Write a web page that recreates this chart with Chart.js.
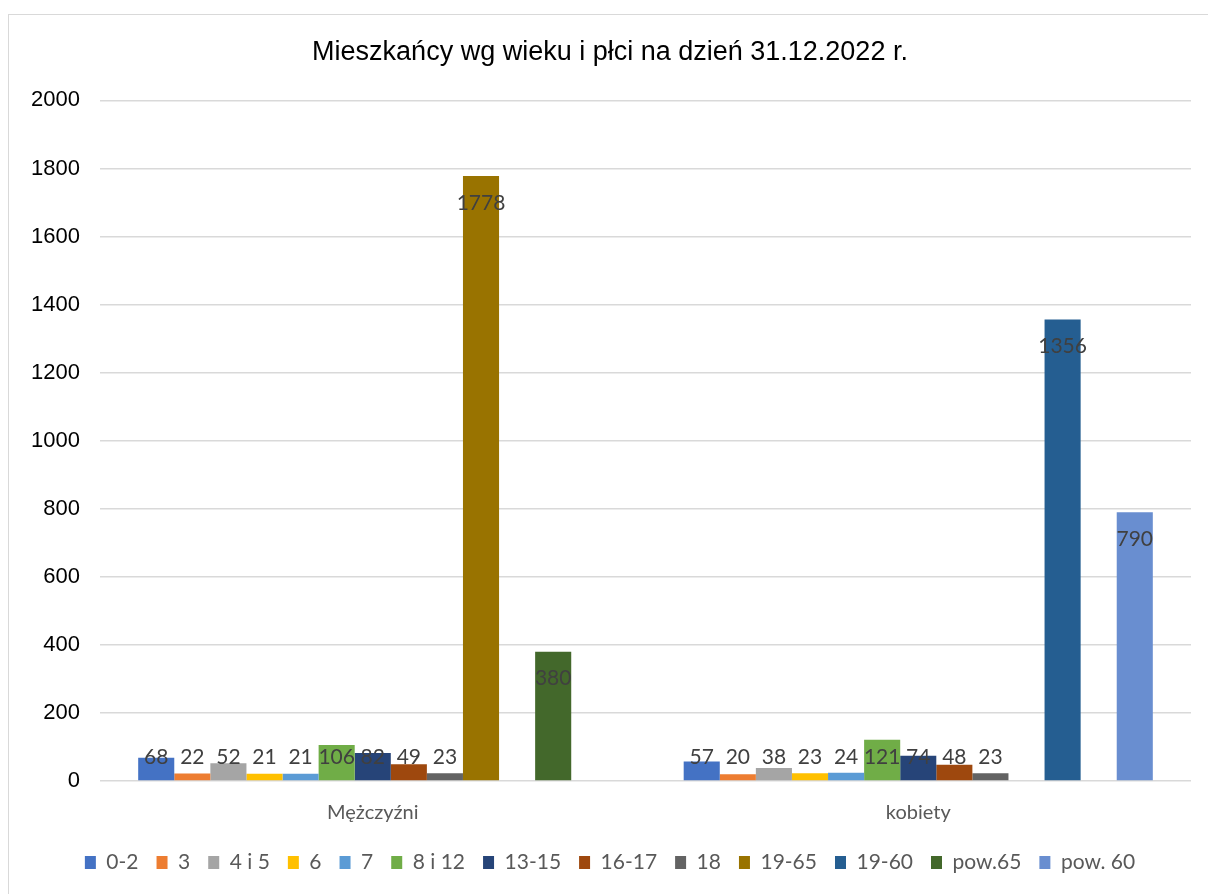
<!DOCTYPE html>
<html>
<head>
<meta charset="utf-8">
<script src="https://cdn.jsdelivr.net/npm/chart.js@4.4.1/dist/chart.umd.min.js"></script>
<style>
  html, body { margin:0; padding:0; background:#fff; overflow:hidden; }
  #box { position:absolute; left:8px; top:14px; width:1212px; height:890px; border:1.5px solid #d9d9d9; box-sizing:border-box; }
  canvas { display:block; }
</style>
</head>
<body>
<div id="box"><canvas id="chart" width="1209" height="887"></canvas></div>
<script>
const categories = ['Mężczyźni', 'kobiety'];
const groups = ['0-2', '3', '4 i 5', '6', '7', '8 i 12', '13-15', '16-17', '18', '19-65', '19-60', 'pow.65', 'pow. 60'];
const menValues   = [68, 22, 52, 21, 21, 106, 82, 49, 23, 1778, null, 380, null];
const womenValues = [57, 20, 38, 23, 24, 121, 74, 48, 23, null, 1356, null, 790];
const colors = ['#4472C4', '#ED7D31', '#A5A5A5', '#FFC000', '#5B9BD5', '#70AD47', '#264478', '#9E480E', '#636363', '#997300', '#255E91', '#43682B', '#698ED0'];
const yTicks = [0, 200, 400, 600, 800, 1000, 1200, 1400, 1600, 1800, 2000];

const datasets = groups.map((g, i) => ({
  label: g,
  data: [menValues[i], womenValues[i]],
  backgroundColor: colors[i],
  borderWidth: 0,
  barPercentage: 1,
  categoryPercentage: 0.86
}));

// Excel-like data labels: inside end, pushed up for short bars
const barLabels = {
  id: 'barLabels',
  afterDatasetsDraw(chart) {
    const ctx = chart.ctx;
    ctx.save();
    ctx.font = '21px Lato';
    ctx.fillStyle = '#404040';
    ctx.textAlign = 'center';
    ctx.textBaseline = 'middle';
    chart.data.datasets.forEach((ds, di) => {
      chart.getDatasetMeta(di).data.forEach((bar, i) => {
        const v = ds.data[i];
        if (v === null || v === undefined) return;
        const y = Math.min(bar.y + 27, bar.base - 23);
        ctx.fillText(String(v), bar.x, y);
      });
    });
    ctx.restore();
  }
};

new Chart(document.getElementById('chart').getContext('2d'), {
  type: 'bar',
  data: { labels: categories, datasets },
  options: {
    responsive: false,
    animation: false,
    layout: { padding: { left: 20, right: 27, top: 0, bottom: 19 } },
    plugins: {
      title: {
        display: true,
        text: 'Mieszkańcy wg wieku i płci na dzień 31.12.2022 r.',
        font: { family: '"Liberation Sans", Arial', size: 27, weight: 'normal' },
        color: '#000',
        padding: { top: 21, bottom: 32 }
      },
      legend: {
        position: 'bottom',
        labels: {
          font: { family: 'Lato', size: 21 },
          color: '#595959',
          boxWidth: 11,
          boxHeight: 13,
          padding: 18
        }
      },
      tooltip: { enabled: false }
    },
    scales: {
      x: {
        grid: { display: false, drawTicks: false },
        border: { display: false },
        ticks: { font: { family: 'Lato', size: 20 }, color: '#595959', padding: 20 },
        afterFit(axis) { axis.height -= 11; }
      },
      y: {
        min: 0, max: 2000,
        afterBuildTicks(axis) { axis.ticks = yTicks.map(v => ({ value: v })); },
        afterFit(axis) { axis.width = 71; },
        grid: { color: '#d9d9d9', lineWidth: 1.5, drawTicks: false },
        border: { display: false },
        ticks: {
          font: { family: '"Liberation Sans", Arial', size: 22 }, color: '#000', padding: 20,
          callback: v => String(v)
        }
      }
    }
  },
  plugins: [barLabels]
});
</script>
</body>
</html>
